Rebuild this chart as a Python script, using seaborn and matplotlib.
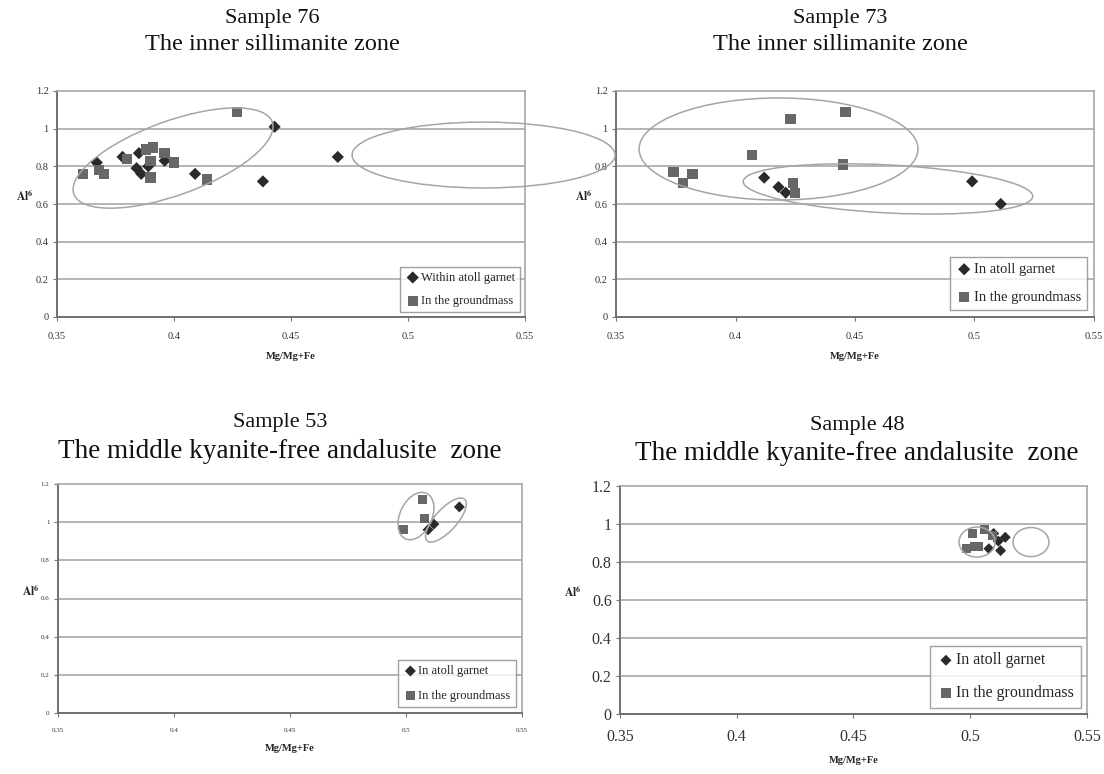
import matplotlib
matplotlib.use('Agg')
import numpy as np
import pandas as pd
import matplotlib.pyplot as plt
import seaborn as sns
from matplotlib.patches import Ellipse
from matplotlib.transforms import IdentityTransform

# ---- data (x = Mg/Mg+Fe, y = Al6) ----
s76_atoll_x = [0.367, 0.378, 0.385, 0.384, 0.386, 0.389, 0.396, 0.409, 0.438, 0.443, 0.470]
s76_atoll_y = [0.82, 0.85, 0.87, 0.79, 0.76, 0.80, 0.83, 0.76, 0.72, 1.01, 0.85]
s76_gm_x = [0.361, 0.368, 0.370, 0.380, 0.388, 0.391, 0.390, 0.390, 0.396, 0.400, 0.414, 0.427]
s76_gm_y = [0.76, 0.78, 0.76, 0.84, 0.89, 0.90, 0.83, 0.74, 0.87, 0.82, 0.73, 1.09]

s73_atoll_x = [0.412, 0.418, 0.421, 0.499, 0.511]
s73_atoll_y = [0.74, 0.69, 0.66, 0.72, 0.60]
s73_gm_x = [0.374, 0.378, 0.382, 0.407, 0.423, 0.424, 0.425, 0.445, 0.446]
s73_gm_y = [0.77, 0.71, 0.76, 0.86, 1.05, 0.71, 0.66, 0.81, 1.09]

s53_atoll_x = [0.5095, 0.512, 0.523]
s53_atoll_y = [0.96, 0.99, 1.08]
s53_gm_x = [0.499, 0.507, 0.508]
s53_gm_y = [0.96, 1.12, 1.02]

s48_atoll_x = [0.508, 0.510, 0.512, 0.513, 0.515]
s48_atoll_y = [0.87, 0.95, 0.91, 0.86, 0.93]
s48_gm_x = [0.501, 0.506, 0.5095, 0.4985, 0.502, 0.5035]
s48_gm_y = [0.95, 0.97, 0.94, 0.87, 0.88, 0.88]

x_ticks = [0.35, 0.4, 0.45, 0.5, 0.55]
y_ticks = [0, 0.2, 0.4, 0.6, 0.8, 1, 1.2]

W, H = 1104, 774
sns.set_style('white')
plt.rcParams['font.family'] = ['Liberation Serif', 'DejaVu Serif']
plt.rcParams['mathtext.fontset'] = 'stix'

fig = plt.figure(figsize=(W / 100, H / 100), dpi=100)


def box(l, t, r, b):
    return [l / W, 1 - b / H, (r - l) / W, (b - t) / H]


def panel(rect, ax_x, ax_y, gm_x, gm_y, atoll_label, tick_fs, leg_fs, ms,
          ylab_x, leg_space, leg_pad):
    ax = fig.add_axes(box(*rect))
    d1 = pd.DataFrame({'x': ax_x, 'y': ax_y})
    d2 = pd.DataFrame({'x': gm_x, 'y': gm_y})
    sns.scatterplot(data=d1, x='x', y='y', marker='D', s=ms * 0.7, color='#2a2a2a',
                    edgecolor='none', label=atoll_label, ax=ax, zorder=3)
    sns.scatterplot(data=d2, x='x', y='y', marker='s', s=ms, color='#676767',
                    edgecolor='none', label='In the groundmass', ax=ax, zorder=3)
    ax.set_xlim(0.35, 0.55)
    ax.set_ylim(0, 1.2)
    ax.set_xticks(x_ticks)
    ax.set_xticklabels(['0.35', '0.4', '0.45', '0.5', '0.55'])
    ax.set_yticks(y_ticks)
    ax.set_yticklabels(['0', '0.2', '0.4', '0.6', '0.8', '1', '1.2'])
    ax.tick_params(labelsize=tick_fs, length=3, color='#777', colors='#333', direction='out',
                   bottom=True, left=True, pad=3)
    ax.tick_params(axis='x', pad=8)
    for yy in y_ticks[1:-1]:
        ax.axhline(yy, color='#b4b4b4', lw=1.4, zorder=1)
    for side in ['left', 'bottom']:
        ax.spines[side].set_color('#707070')
        ax.spines[side].set_linewidth(1.4)
    for side in ['right', 'top']:
        ax.spines[side].set_color('#a8a8a8')
        ax.spines[side].set_linewidth(1.2)
    ax.set_xlabel('Mg/Mg+Fe', fontsize=7.5, fontweight='bold', labelpad=8)
    ax.set_ylabel(r'$\mathbf{Al^6}$', fontsize=8.5, rotation=0, labelpad=2)
    ax.yaxis.set_label_coords(ylab_x, 0.5)
    leg = ax.legend(loc='lower right', frameon=True, fancybox=False, fontsize=leg_fs,
                    handletextpad=0.05, borderpad=0.4, borderaxespad=leg_pad,
                    labelspacing=leg_space, handlelength=1.2)
    leg.get_frame().set_edgecolor('#8a8a8a')
    leg.get_frame().set_linewidth(1.0)
    return ax


def ring(ax, cx, cy, w, h, ang=0.0):
    # centre and axis lengths in data units, drawn in pixels so the tilt stays true
    x0, y0 = ax.transData.transform((cx, cy))
    x1, _ = ax.transData.transform((cx + w, cy))
    _, y1 = ax.transData.transform((cx, cy + h))
    e = Ellipse((x0, y0), x1 - x0, y1 - y0, angle=ang, transform=IdentityTransform(),
                fill=False, ec='#a5a5a5', lw=1.1, zorder=5)
    fig.add_artist(e)


ax1 = panel((57, 91, 525, 317), s76_atoll_x, s76_atoll_y, s76_gm_x, s76_gm_y,
            'Within atoll garnet', 7.5, 9, 55, -0.068, 0.9, 0.4)
ax2 = panel((616, 91, 1094, 317), s73_atoll_x, s73_atoll_y, s73_gm_x, s73_gm_y,
            'In atoll garnet', 7.5, 10.5, 55, -0.068, 1.0, 0.5)
ax3 = panel((58, 484, 522, 713), s53_atoll_x, s53_atoll_y, s53_gm_x, s53_gm_y,
            'In atoll garnet', 5, 9, 45, -0.058, 1.0, 0.5)
ax4 = panel((620, 486, 1087, 714), s48_atoll_x, s48_atoll_y, s48_gm_x, s48_gm_y,
            'In atoll garnet', 11.5, 11.5, 45, -0.1, 1.05, 0.4)

ring(ax1, 0.3996, 0.844, 0.0902, 0.393, 20)
ring(ax1, 0.5323, 0.860, 0.1124, 0.350, 0)
ring(ax2, 0.418, 0.892, 0.1167, 0.542, 0)
ring(ax2, 0.4638, 0.680, 0.1213, 0.255, -3)
ring(ax3, 0.5043, 1.032, 0.0216, 0.168, 65)
ring(ax3, 0.5172, 1.011, 0.0241, 0.115, 48)
ring(ax4, 0.5029, 0.905, 0.0154, 0.158, 0)
ring(ax4, 0.5260, 0.905, 0.0154, 0.153, 0)

titles = [
    (272, 18, 44, 16, 17.5, 'Sample 76', 'The inner sillimanite zone'),
    (840, 19, 45, 16, 17.5, 'Sample 73', 'The inner sillimanite zone'),
    (280, 422, 452, 16, 19.5, 'Sample 53', 'The middle kyanite-free andalusite  zone'),
    (857, 425, 454, 16, 19.5, 'Sample 48', 'The middle kyanite-free andalusite  zone'),
]
for x, y1, y2, f1, f2, t1, t2 in titles:
    fig.text(x / W, 1 - y1 / H, t1, ha='center', va='center', fontsize=f1, color='#111')
    fig.text(x / W, 1 - y2 / H, t2, ha='center', va='center', fontsize=f2, color='#111')

fig.savefig('out.png', dpi=100, facecolor='white')
